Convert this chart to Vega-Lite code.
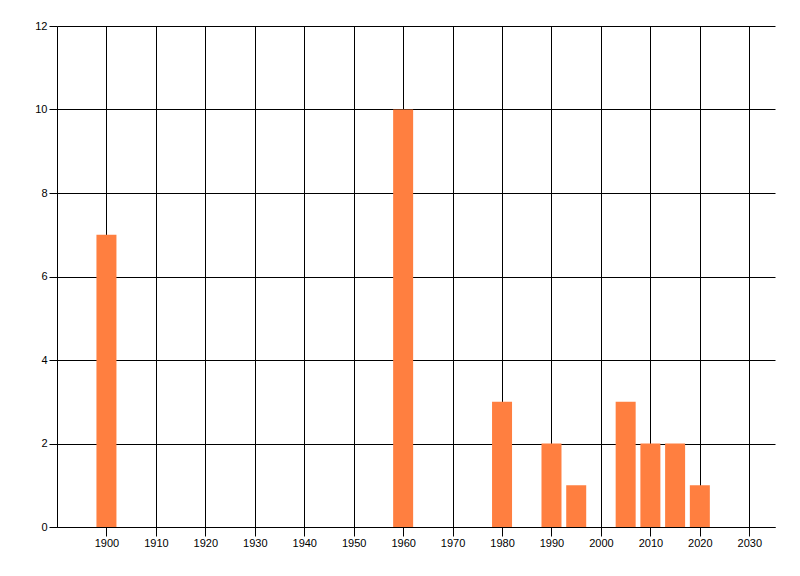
{
  "$schema": "https://vega.github.io/schema/vega-lite/v6.json",
  "width": 718,
  "height": 501,
  "autosize": "none",
  "padding": {"left": 57, "top": 26, "right": 25, "bottom": 49},
  "background": "white",
  "config": {"view": {"stroke": null}},
  "data": {"values": [
    {"year": 1900, "count": 7},
    {"year": 1960, "count": 10},
    {"year": 1980, "count": 3},
    {"year": 1990, "count": 2},
    {"year": 1995, "count": 1},
    {"year": 2005, "count": 3},
    {"year": 2010, "count": 2},
    {"year": 2015, "count": 2},
    {"year": 2020, "count": 1}
  ]},
  "mark": {"type": "bar", "size": 20, "color": "#FF7F40", "opacity": 1},
  "encoding": {
    "x": {
      "field": "year", "type": "quantitative",
      "scale": {"domain": [1890, 2035.2], "nice": false, "zero": false, "padding": 0},
      "axis": {
        "title": null,
        "values": [1900, 1910, 1920, 1930, 1940, 1950, 1960, 1970, 1980, 1990, 2000, 2010, 2020, 2030],
        "format": "d",
        "grid": true, "gridColor": "black", "gridOpacity": 1, "gridWidth": 1,
        "domainColor": "black", "domainWidth": 1,
        "tickColor": "black", "tickSize": 9, "tickWidth": 1,
        "labelFont": "Liberation Sans", "labelFontSize": 11, "labelColor": "black",
        "labelPadding": 1
      }
    },
    "y": {
      "field": "count", "type": "quantitative",
      "scale": {"domain": [0, 12], "nice": false, "padding": 0},
      "axis": {
        "title": null,
        "values": [0, 2, 4, 6, 8, 10, 12],
        "grid": true, "gridColor": "black", "gridOpacity": 1, "gridWidth": 1,
        "domainColor": "black", "domainWidth": 1,
        "tickColor": "black", "tickSize": 8, "tickWidth": 1,
        "labelFont": "Liberation Sans", "labelFontSize": 11, "labelColor": "black",
        "labelPadding": 2
      }
    }
  }
}
